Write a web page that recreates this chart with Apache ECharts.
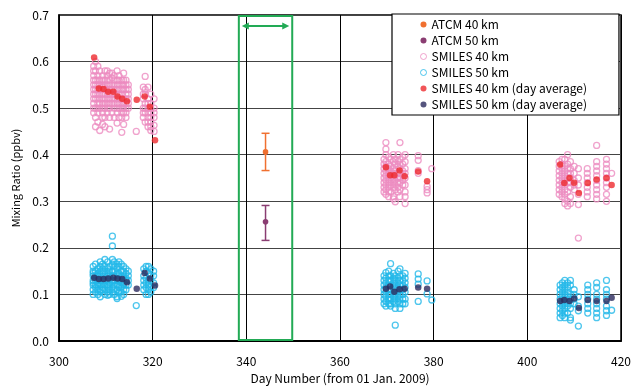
<!DOCTYPE html>
<html>
<head>
<meta charset="utf-8">
<script src="https://cdn.jsdelivr.net/npm/echarts@6/dist/echarts.min.js"></script>
<style>
  html, body { margin: 0; padding: 0; background: #fff; }
  #main { width: 635px; height: 389px; }
</style>
</head>
<body>
<div id="main"></div>
<script>
// ATCM: [day, value, lower, upper]
const atcm40 = [[344.1, 0.406, 0.366, 0.446]];
const atcm50 = [[344.1, 0.256, 0.216, 0.291]];
// ATCM observation period (green box)
const atcmPeriod = [338.4, 349.8];

// SMILES single profiles, columns of [day, [values]]
const smiles40Nov = [
  [307.4, [0.59, 0.58, 0.57, 0.56, 0.55, 0.54, 0.53, 0.52, 0.51, 0.50, 0.49]],
  [307.8, [0.60, 0.58, 0.56, 0.55, 0.54, 0.53, 0.52, 0.50, 0.48, 0.46]],
  [308.3, [0.59, 0.57, 0.56, 0.55, 0.54, 0.53, 0.52, 0.51, 0.50, 0.49, 0.47]],
  [308.7, [0.58, 0.56, 0.55, 0.54, 0.53, 0.52, 0.51, 0.50, 0.452]],
  [309.3, [0.57, 0.56, 0.55, 0.545, 0.53, 0.52, 0.51, 0.50, 0.49, 0.48, 0.465]],
  [309.8, [0.58, 0.56, 0.55, 0.54, 0.53, 0.52, 0.51, 0.50, 0.48, 0.46]],
  [310.3, [0.58, 0.57, 0.56, 0.55, 0.54, 0.53, 0.52, 0.51, 0.50, 0.49]],
  [310.8, [0.575, 0.56, 0.55, 0.54, 0.53, 0.52, 0.51, 0.50, 0.48, 0.455]],
  [311.3, [0.575, 0.565, 0.55, 0.54, 0.53, 0.52, 0.51, 0.49]],
  [311.8, [0.57, 0.56, 0.55, 0.54, 0.53, 0.52, 0.51, 0.50, 0.48]],
  [312.4, [0.58, 0.56, 0.55, 0.54, 0.53, 0.52, 0.51, 0.50, 0.49, 0.468]],
  [312.8, [0.57, 0.56, 0.55, 0.54, 0.53, 0.52, 0.51, 0.50, 0.48]],
  [313.4, [0.56, 0.55, 0.54, 0.53, 0.52, 0.51, 0.50, 0.49, 0.48, 0.448]],
  [313.8, [0.575, 0.56, 0.55, 0.54, 0.52, 0.51, 0.50, 0.49, 0.465]],
  [314.3, [0.56, 0.55, 0.54, 0.53, 0.52, 0.51, 0.50, 0.49, 0.48]],
  [314.8, [0.55, 0.54, 0.53, 0.52, 0.51, 0.50]],
  [316.5, [0.45]],
  [318.0, [0.545, 0.53, 0.52, 0.50, 0.49, 0.48]],
  [318.4, [0.568, 0.54, 0.53, 0.51, 0.50, 0.49, 0.47]],
  [319.0, [0.545, 0.52, 0.51, 0.50, 0.49, 0.48, 0.47, 0.46]],
  [319.6, [0.53, 0.51, 0.50, 0.49, 0.48, 0.47, 0.46, 0.452]],
  [320.3, [0.52, 0.50, 0.49, 0.48, 0.463, 0.45]]
];
const smiles40Jan = [
  [369.4, [0.39, 0.38, 0.37, 0.36, 0.35, 0.34, 0.33, 0.32]],
  [369.8, [0.426, 0.412, 0.40, 0.385, 0.375, 0.365, 0.355, 0.345, 0.335, 0.325, 0.315]],
  [370.4, [0.395, 0.38, 0.37, 0.36, 0.35, 0.34, 0.33, 0.32, 0.31]],
  [370.9, [0.39, 0.375, 0.365, 0.355, 0.345, 0.335, 0.32]],
  [371.4, [0.40, 0.385, 0.37, 0.36, 0.35, 0.34, 0.33, 0.31, 0.305]],
  [371.8, [0.39, 0.38, 0.365, 0.355, 0.345, 0.335, 0.325, 0.299]],
  [372.4, [0.40, 0.385, 0.375, 0.36, 0.35, 0.34, 0.33, 0.32]],
  [372.8, [0.426, 0.39, 0.38, 0.37, 0.36, 0.35, 0.34, 0.325, 0.31]],
  [373.4, [0.395, 0.38, 0.365, 0.355, 0.345, 0.335]],
  [373.9, [0.40, 0.385, 0.37, 0.36, 0.35, 0.335, 0.32, 0.31, 0.295]],
  [376.7, [0.398, 0.388, 0.366, 0.36]],
  [378.6, [0.332, 0.325, 0.318]],
  [379.6, [0.37]]
];
const smiles40Feb = [
  [406.8, [0.385, 0.375, 0.365, 0.355, 0.345, 0.335, 0.325, 0.315]],
  [407.4, [0.39, 0.38, 0.37, 0.36, 0.35, 0.34, 0.33, 0.32, 0.31]],
  [408.0, [0.39, 0.375, 0.365, 0.355, 0.345, 0.335, 0.325, 0.315, 0.305, 0.295]],
  [408.6, [0.40, 0.38, 0.37, 0.36, 0.35, 0.34, 0.32, 0.30, 0.29]],
  [409.2, [0.385, 0.37, 0.36, 0.35, 0.34, 0.33, 0.31, 0.295]],
  [410.0, [0.375, 0.36, 0.345, 0.335, 0.325]],
  [410.9, [0.37, 0.35, 0.335, 0.315, 0.293, 0.221]],
  [412.8, [0.37, 0.36, 0.35, 0.34, 0.33, 0.32, 0.31]],
  [414.8, [0.42, 0.385, 0.375, 0.365, 0.355, 0.345, 0.335, 0.325, 0.315, 0.305]],
  [416.9, [0.39, 0.38, 0.37, 0.36, 0.35, 0.34, 0.33, 0.315, 0.30]],
  [418.0, [0.36]]
];
const smiles50Nov = [
  [307.3, [0.16, 0.15, 0.145, 0.14, 0.13, 0.125, 0.12, 0.11, 0.10]],
  [307.8, [0.165, 0.15, 0.14, 0.135, 0.13, 0.12, 0.115, 0.105]],
  [308.3, [0.155, 0.145, 0.14, 0.13, 0.125, 0.12, 0.11, 0.10]],
  [308.8, [0.17, 0.16, 0.15, 0.14, 0.13, 0.12, 0.11, 0.105, 0.095]],
  [309.3, [0.165, 0.155, 0.145, 0.135, 0.13, 0.125, 0.115, 0.11]],
  [309.8, [0.175, 0.16, 0.15, 0.14, 0.13, 0.12, 0.11, 0.10]],
  [310.4, [0.17, 0.155, 0.145, 0.14, 0.13, 0.12, 0.115, 0.105, 0.098]],
  [310.8, [0.16, 0.15, 0.14, 0.135, 0.125, 0.12, 0.11, 0.10]],
  [311.4, [0.225, 0.204, 0.175, 0.165, 0.15, 0.14, 0.13, 0.125, 0.115, 0.105]],
  [311.8, [0.17, 0.16, 0.15, 0.14, 0.13, 0.12, 0.11, 0.10]],
  [312.4, [0.165, 0.155, 0.145, 0.135, 0.13, 0.12, 0.11, 0.095, 0.091]],
  [312.8, [0.17, 0.16, 0.145, 0.14, 0.13, 0.12, 0.115, 0.105]],
  [313.3, [0.165, 0.15, 0.14, 0.13, 0.125, 0.115, 0.105, 0.096]],
  [313.8, [0.16, 0.15, 0.14, 0.135, 0.125, 0.12, 0.11, 0.10]],
  [314.3, [0.155, 0.145, 0.135, 0.13, 0.12, 0.11]],
  [314.8, [0.15, 0.14, 0.13, 0.12]],
  [316.5, [0.076]],
  [318.1, [0.155, 0.14, 0.13, 0.12, 0.11]],
  [318.6, [0.16, 0.15, 0.135, 0.125, 0.115, 0.10]],
  [319.1, [0.16, 0.145, 0.13, 0.12, 0.11, 0.10]],
  [319.6, [0.155, 0.14, 0.13, 0.115, 0.105]],
  [320.2, [0.15, 0.14, 0.125, 0.115]]
];
const smiles50Jan = [
  [369.4, [0.14, 0.13, 0.12, 0.11, 0.10, 0.09, 0.08]],
  [369.8, [0.147, 0.135, 0.125, 0.115, 0.105, 0.095, 0.085, 0.075]],
  [370.4, [0.15, 0.14, 0.13, 0.12, 0.11, 0.10, 0.09, 0.08]],
  [370.8, [0.166, 0.14, 0.13, 0.12, 0.11, 0.10, 0.09, 0.08, 0.075]],
  [371.4, [0.145, 0.135, 0.125, 0.115, 0.105, 0.095, 0.085]],
  [371.8, [0.14, 0.13, 0.12, 0.11, 0.10, 0.09, 0.08, 0.07, 0.034]],
  [372.4, [0.15, 0.135, 0.125, 0.115, 0.105, 0.095, 0.085]],
  [372.8, [0.155, 0.14, 0.13, 0.12, 0.11, 0.10, 0.09, 0.08, 0.07]],
  [373.4, [0.14, 0.13, 0.12, 0.11, 0.10, 0.09, 0.08]],
  [373.9, [0.145, 0.135, 0.125, 0.115, 0.105, 0.09, 0.08]],
  [376.7, [0.144, 0.133, 0.122, 0.085]],
  [378.6, [0.129, 0.101]],
  [379.6, [0.088]]
];
const smiles50Feb = [
  [407.0, [0.12, 0.11, 0.10, 0.09, 0.08, 0.07, 0.06, 0.05]],
  [407.5, [0.125, 0.115, 0.105, 0.095, 0.085, 0.075, 0.065, 0.055]],
  [408.0, [0.13, 0.12, 0.11, 0.10, 0.09, 0.08, 0.07, 0.06, 0.05]],
  [408.6, [0.125, 0.115, 0.105, 0.095, 0.085, 0.075, 0.06]],
  [409.2, [0.13, 0.12, 0.10, 0.09, 0.08, 0.07, 0.05, 0.045]],
  [410.0, [0.11, 0.10, 0.09, 0.08]],
  [410.9, [0.095, 0.075, 0.065, 0.032]],
  [412.9, [0.12, 0.11, 0.10, 0.09, 0.08, 0.07, 0.06]],
  [414.8, [0.125, 0.115, 0.10, 0.09, 0.08, 0.07, 0.06, 0.05]],
  [416.9, [0.13, 0.11, 0.10, 0.09, 0.075, 0.065, 0.055]],
  [418.0, [0.066]]
];

// SMILES day averages [day, value]
const avg40 = [
  [307.5, 0.609], [308.5, 0.542], [309.5, 0.541], [310.5, 0.535], [311.6, 0.535],
  [312.5, 0.525], [313.5, 0.520], [314.5, 0.515], [316.6, 0.518], [318.3, 0.525],
  [319.4, 0.503], [320.5, 0.431],
  [369.8, 0.373], [370.7, 0.356], [371.6, 0.356], [372.7, 0.366], [373.8, 0.354],
  [376.7, 0.364], [378.6, 0.343],
  [407.0, 0.379], [407.9, 0.339], [409.0, 0.350], [410.0, 0.340], [411.0, 0.318],
  [412.9, 0.339], [414.8, 0.347], [416.9, 0.350], [418.0, 0.335]
];
const avg50 = [
  [307.5, 0.136], [308.5, 0.133], [309.5, 0.133], [310.5, 0.134], [311.6, 0.136],
  [312.5, 0.134], [313.5, 0.133], [314.5, 0.126], [316.6, 0.112], [318.3, 0.146],
  [319.4, 0.134], [320.5, 0.119],
  [369.8, 0.112], [370.7, 0.117], [371.6, 0.106], [372.7, 0.111], [373.8, 0.112],
  [376.7, 0.115], [378.6, 0.112],
  [407.0, 0.086], [407.9, 0.088], [409.0, 0.086], [410.0, 0.091], [411.0, 0.071],
  [412.9, 0.088], [414.8, 0.086], [416.9, 0.086], [418.0, 0.093]
];

function flat(cols) {
  const out = [];
  cols.forEach(c => c[1].forEach(v => out.push([c[0], v])));
  return out;
}

const FONT = 'Noto Sans CJK JP';
const GREEN = '#22aa55';

const errorBar = (color) => (params, api) => {
  const p = api.coord([api.value(0), api.value(1)]);
  const lo = api.coord([api.value(0), api.value(2)]);
  const hi = api.coord([api.value(0), api.value(3)]);
  const st = { stroke: color, lineWidth: 1.5 };
  return {
    type: 'group',
    children: [
      { type: 'line', shape: { x1: p[0], y1: lo[1], x2: p[0], y2: hi[1] }, style: st },
      { type: 'line', shape: { x1: p[0] - 4, y1: lo[1], x2: p[0] + 4, y2: lo[1] }, style: st },
      { type: 'line', shape: { x1: p[0] - 4, y1: hi[1], x2: p[0] + 4, y2: hi[1] }, style: st },
      { type: 'circle', shape: { cx: p[0], cy: p[1], r: 2.8 }, style: { fill: color } }
    ]
  };
};

var myChart = echarts.init(document.getElementById('main'));
var option;

option = {
  animation: false,
  textStyle: { fontFamily: FONT },
  grid: {
    left: 59, right: 14, top: 15, bottom: 44,
    show: true, borderColor: '#000', borderWidth: 1.5
  },
  legend: {
    orient: 'vertical',
    left: 392, top: 14,
    padding: [4, 32, 4, 28],
    itemGap: 3,
    itemWidth: 6, itemHeight: 6,
    backgroundColor: '#fff',
    borderColor: '#000', borderWidth: 1.2,
    textStyle: { fontFamily: FONT, fontSize: 12, color: '#000', lineHeight: 13 },
    data: [
      { name: 'ATCM 40 km', icon: 'circle' },
      { name: 'ATCM 50 km', icon: 'circle' },
      { name: 'SMILES 40 km', itemStyle: { borderWidth: 1 } },
      { name: 'SMILES 50 km', itemStyle: { borderWidth: 1 } },
      'SMILES 40 km (day average)', 'SMILES 50 km (day average)'
    ]
  },
  xAxis: {
    type: 'value', min: 300, max: 420, interval: 20,
    name: 'Day Number (from 01 Jan. 2009)',
    nameLocation: 'middle', nameGap: 31,
    nameTextStyle: { fontFamily: FONT, fontSize: 12, color: '#000' },
    axisLine: { show: true, lineStyle: { color: '#000', width: 2 } },
    axisTick: { show: false },
    axisLabel: { fontFamily: FONT, fontSize: 12, color: '#000', margin: 14 },
    splitLine: { show: true, lineStyle: { color: '#000', width: 1 } }
  },
  yAxis: {
    type: 'value', min: 0, max: 0.7, interval: 0.1,
    name: 'Mixing Ratio (ppbv)',
    nameLocation: 'middle', nameGap: 37,
    nameTextStyle: { fontFamily: FONT, fontSize: 11, color: '#000' },
    axisLine: { show: true, lineStyle: { color: '#000', width: 1.5 } },
    axisTick: { show: false },
    axisLabel: { fontFamily: FONT, fontSize: 12, color: '#000', margin: 10,
      formatter: v => v.toFixed(1) },
    splitLine: { show: true, lineStyle: { color: '#444', width: 1 } }
  },
  series: [
    {
      name: 'period', type: 'custom', silent: true, z: 1,
      data: [[atcmPeriod[0], 0, atcmPeriod[1], 0.7]],
      renderItem: (params, api) => {
        const a = api.coord([api.value(0), api.value(1)]);
        const b = api.coord([api.value(2), api.value(3)]);
        const ay = b[1] + 11;
        const x1 = a[0] + 3, x2 = b[0] - 3;
        return {
          type: 'group',
          children: [
            { type: 'rect', shape: { x: a[0], y: b[1] + 1, width: b[0] - a[0], height: a[1] - b[1] - 2 },
              style: { fill: 'none', stroke: GREEN, lineWidth: 2 } },
            { type: 'line', shape: { x1: x1 + 4, y1: ay, x2: x2 - 4, y2: ay },
              style: { stroke: GREEN, lineWidth: 2 } },
            { type: 'polygon', shape: { points: [[x1, ay], [x1 + 7, ay - 3.5], [x1 + 7, ay + 3.5]] },
              style: { fill: GREEN } },
            { type: 'polygon', shape: { points: [[x2, ay], [x2 - 7, ay - 3.5], [x2 - 7, ay + 3.5]] },
              style: { fill: GREEN } }
          ]
        };
      }
    },
    {
      name: 'SMILES 40 km', type: 'scatter', symbol: 'circle', symbolSize: 6,
      itemStyle: { color: 'rgba(255,255,255,0)', borderColor: '#ec8cc0', borderWidth: 1.3 },
      data: flat(smiles40Nov).concat(flat(smiles40Jan), flat(smiles40Feb))
    },
    {
      name: 'SMILES 50 km', type: 'scatter', symbol: 'circle', symbolSize: 6,
      itemStyle: { color: 'rgba(255,255,255,0)', borderColor: '#22b8e8', borderWidth: 1.3 },
      data: flat(smiles50Nov).concat(flat(smiles50Jan), flat(smiles50Feb))
    },
    {
      name: 'SMILES 40 km (day average)', type: 'scatter', symbolSize: 6.5,
      itemStyle: { color: '#ee2a2e' }, z: 5,
      data: avg40
    },
    {
      name: 'SMILES 50 km (day average)', type: 'scatter', symbolSize: 6.5,
      itemStyle: { color: '#2c2b5e' }, z: 5,
      data: avg50
    },
    {
      name: 'ATCM 40 km', type: 'custom', itemStyle: { color: '#f07030' },
      encode: { x: 0, y: 1 }, data: atcm40, renderItem: errorBar('#f07030')
    },
    {
      name: 'ATCM 50 km', type: 'custom', itemStyle: { color: '#8a3d72' },
      encode: { x: 0, y: 1 }, data: atcm50, renderItem: errorBar('#8a3d72')
    }
  ]
};

option && myChart.setOption(option);
</script>
</body>
</html>
